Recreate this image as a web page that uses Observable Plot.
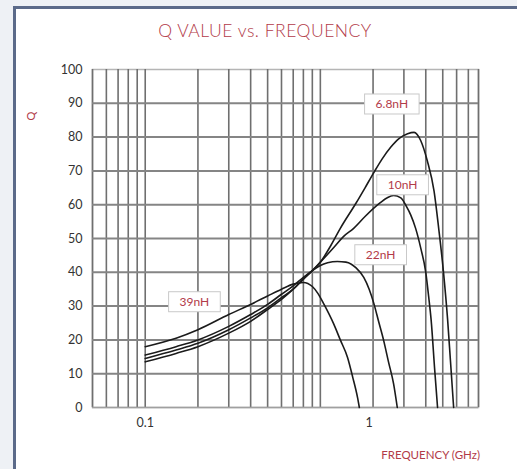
<!DOCTYPE html>
<html><head><meta charset="utf-8">
<script src="https://cdn.jsdelivr.net/npm/d3@7"></script>
<script src="https://cdn.jsdelivr.net/npm/@observablehq/plot@0.6"></script>
<style>
html,body{margin:0;padding:0;}
body{width:517px;height:469px;background:#eef1f5;position:relative;overflow:hidden;font-family:Lato,"Open Sans",sans-serif;}
#card{position:absolute;left:13px;top:6px;right:0;bottom:0;background:#fff;border-left:3px solid #5b6a89;border-top:3px solid #5b6a89;}
#title{position:absolute;left:0;width:530px;top:21px;line-height:20px;text-align:center;font-size:17.5px;letter-spacing:0.5px;font-weight:300;color:#b23a48;z-index:2;}
#chart{position:absolute;left:16px;top:9px;z-index:1;}
#ylab{position:absolute;left:31px;top:116px;transform:translate(-50%,-50%) rotate(-90deg);font-size:11px;color:#b23a48;line-height:12px;z-index:2;}
#xlab{position:absolute;right:37px;top:448px;line-height:14px;font-size:11.5px;color:#b23a48;z-index:2;}
</style></head>
<body>
<div id="card"></div>
<div id="chart"></div>
<div id="title">Q VALUE vs. FREQUENCY</div>
<div id="ylab">Q</div>
<div id="xlab">FREQUENCY (GHz)</div>
<script>
// Series: frequency (GHz, grid coordinates) and Q
const f39 = [0.1, 0.15, 0.2, 0.3, 0.4, 0.5, 0.6, 0.7, 0.8, 0.9, 0.97, 1.05, 1.19, 1.3, 1.43, 1.53, 1.63, 1.67];
const q39 = [18, 20.5, 23, 27.5, 30.5, 33, 35, 36.5, 37, 35.8, 33.7, 30.5, 24.8, 20, 14.8, 9, 3, 0];

const f22 = [0.1, 0.15, 0.2, 0.3, 0.4, 0.5, 0.6, 0.7, 0.8, 0.9, 1.0, 1.1, 1.25, 1.4, 1.6, 1.77, 1.9, 2.02, 2.15, 2.3, 2.45, 2.62, 2.75];
const q22 = [15.5, 18, 20, 24, 27.5, 30.5, 33.5, 36, 38.5, 40.5, 42, 42.8, 43.2, 43, 41.3, 38.5, 35, 30.8, 25.5, 19.8, 13.5, 7, 0];

const f10 = [0.1, 0.15, 0.2, 0.3, 0.4, 0.5, 0.6, 0.7, 0.8, 0.9, 1.0, 1.2, 1.35, 1.55, 1.8, 2.13, 2.4, 2.62, 2.88, 3.1, 3.28, 3.5, 3.75, 4.0, 4.15, 4.29, 4.5, 4.67];
const q10 = [14.5, 17, 19, 23, 26.5, 29.5, 32.5, 35, 38, 40.5, 43, 47.5, 50.5, 53, 56.5, 60, 62, 62.7, 62, 59.5, 57, 53, 47, 40, 33, 26, 11, 0];

const f68 = [0.1, 0.15, 0.2, 0.3, 0.4, 0.5, 0.6, 0.7, 0.8, 0.9, 1.0, 1.15, 1.3, 1.6, 1.8, 2.02, 2.25, 2.52, 2.8, 3.15, 3.43, 3.74, 4.08, 4.46, 4.74, 5.05, 5.33, 5.53, 5.77];
const q68 = [13.5, 16, 18, 22, 25.5, 29, 32, 35, 38, 40.5, 43, 48, 53, 60.5, 65, 69.5, 73.5, 77, 79.5, 81, 81.4, 79, 73, 64, 53, 40, 26, 14, 0];

const seriesNames = ["39nH", "22nH", "10nH", "6.8nH"];

// Callout labels (data coordinates of box centres)
const labelText = ["6.8nH", "10nH", "22nH", "39nH"];
const labelFreq = [2.56, 2.95, 2.21, 0.191];
const labelQ = [89.6, 65.7, 45.0, 31.1];

// Axes / grid
const xGrid = [0.05, 0.06, 0.07, 0.08, 0.09, 0.1, 0.2, 0.3, 0.4, 0.5, 0.6, 0.7, 0.8, 0.9, 1, 2, 3, 4, 5, 6, 7, 8];
const yGrid = [10, 20, 30, 40, 50, 60, 70, 80, 90];
const xTickValues = [0.1, 1.9, 8];
const xTickLabels = ["0.1", "1", "8"];
const yTicks = [0, 10, 20, 30, 40, 50, 60, 70, 80, 90, 100];

const table = [];
[[f39, q39], [f22, q22], [f10, q10], [f68, q68]].forEach(([fs, qs], k) => {
  fs.forEach((f, i) => table.push({series: seriesNames[k], f, q: qs[i]}));
});
const labels = labelText.map((t, i) => ({t, f: labelFreq[i], q: labelQ[i]}));

const plot = Plot.plot({
  width: 501,
  height: 460,
  marginLeft: 76,
  marginRight: 39,
  marginTop: 60,
  marginBottom: 62,
  style: {fontFamily: "Lato, 'Open Sans', sans-serif", fontSize: "12.5px", color: "#333", background: "white"},
  x: {type: "log", domain: [0.05, 8], ticks: xTickValues, tickFormat: (d) => xTickLabels[xTickValues.indexOf(d)], tickSize: 0, tickPadding: 11, label: null},
  y: {domain: [0, 100], ticks: yTicks, tickSize: 0, tickPadding: 10, label: null},
  marks: [
    Plot.frame({stroke: "#b5b5b5", strokeWidth: 1.5}),
    Plot.ruleX(xGrid, {stroke: "#6f6f6f", strokeWidth: 1.6}),
    Plot.ruleY(yGrid, {stroke: "#858585", strokeWidth: 2}),
    Plot.ruleY([0], {stroke: "#a0a0a0", strokeWidth: 1.5}),
    Plot.line(table, {x: "f", y: "q", z: "series", stroke: "#1b1b1b", strokeWidth: 1.6, curve: "monotone-x"}),
    Plot.text(labels, {x: "f", y: "q", text: "t", fill: "#b23a48", fontSize: 12})
  ]
});
document.getElementById("chart").appendChild(plot);

// white boxes behind callout labels
d3.select(plot).selectAll("text").each(function() {
  const t = this.textContent;
  if (!labelText.includes(t)) return;
  const b = this.getBBox();
  const r = document.createElementNS("http://www.w3.org/2000/svg", "rect");
  r.setAttribute("x", b.x - 11);
  r.setAttribute("y", b.y - 2.5);
  r.setAttribute("width", b.width + 22);
  r.setAttribute("height", b.height + 5);
  r.setAttribute("fill", "white");
  r.setAttribute("stroke", "#c9c9c9");
  r.setAttribute("stroke-width", "1");
  const tr = this.getAttribute("transform");
  if (tr) r.setAttribute("transform", tr);
  this.parentNode.insertBefore(r, this);
});
</script>
</body></html>
